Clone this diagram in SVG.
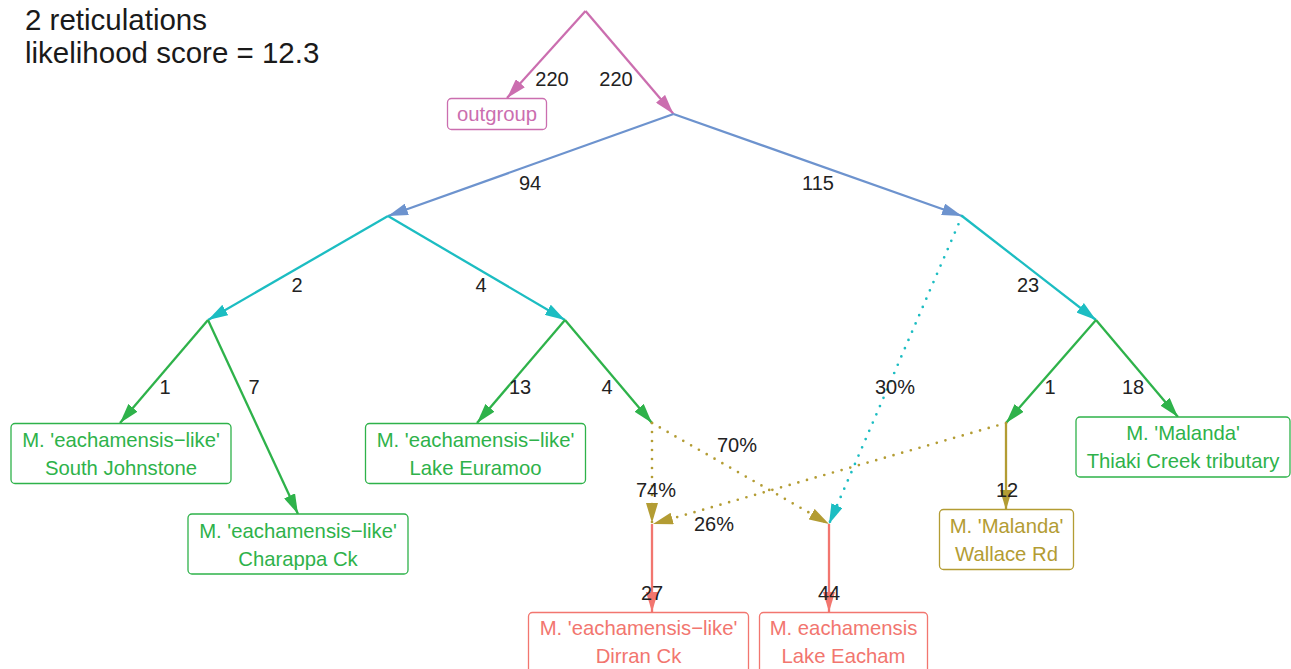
<svg xmlns="http://www.w3.org/2000/svg" width="1291" height="669" viewBox="0 0 1291 669">
<style>
.e{fill:none;stroke-width:2.3}
.d{fill:none;stroke-width:2.7;stroke-linecap:round;stroke-dasharray:0 9}
.pk{stroke:#CB6EAF}.bl{stroke:#6D93CE}.cy{stroke:#1CBDC2}.gr{stroke:#2EB24A}.ol{stroke:#B39C33}.sa{stroke:#F2766F}
.lbl{font-family:"Liberation Sans",Arial,sans-serif;font-size:20px;fill:#222;text-anchor:middle}
.title{font-family:"Liberation Sans",Arial,sans-serif;font-size:29.5px;fill:#1a1a1a}
.box{fill:#fff;stroke-width:1.3}
.bt{font-family:"Liberation Sans",Arial,sans-serif;font-size:20.3px;text-anchor:middle}
</style>
<defs>
<marker id="mpk" markerUnits="userSpaceOnUse" markerWidth="20" markerHeight="12" refX="20" refY="6" orient="auto"><path d="M0,0 L20,6 L0,12 z" fill="#CB6EAF"/></marker>
<marker id="mbl" markerUnits="userSpaceOnUse" markerWidth="20" markerHeight="12" refX="20" refY="6" orient="auto"><path d="M0,0 L20,6 L0,12 z" fill="#6D93CE"/></marker>
<marker id="mcy" markerUnits="userSpaceOnUse" markerWidth="20" markerHeight="12" refX="20" refY="6" orient="auto"><path d="M0,0 L20,6 L0,12 z" fill="#1CBDC2"/></marker>
<marker id="mgr" markerUnits="userSpaceOnUse" markerWidth="20" markerHeight="12" refX="20" refY="6" orient="auto"><path d="M0,0 L20,6 L0,12 z" fill="#2EB24A"/></marker>
<marker id="mol" markerUnits="userSpaceOnUse" markerWidth="20" markerHeight="12" refX="20" refY="6" orient="auto"><path d="M0,0 L20,6 L0,12 z" fill="#B39C33"/></marker>
<marker id="msa" markerUnits="userSpaceOnUse" markerWidth="20" markerHeight="12" refX="20" refY="6" orient="auto"><path d="M0,0 L20,6 L0,12 z" fill="#F2766F"/></marker>
</defs>
<rect width="1291" height="669" fill="#fff"/>
<text class="title" x="25" y="30">2 reticulations</text>
<text class="title" x="25" y="63">likelihood score = 12.3</text>

<g id="connectors">
<line class="e pk" x1="585.5" y1="11" x2="507" y2="98" marker-end="url(#mpk)"/>
<line class="e pk" x1="585.5" y1="11" x2="673.5" y2="114" marker-end="url(#mpk)"/>
<line class="e bl" x1="673.5" y1="114" x2="388" y2="216" marker-end="url(#mbl)"/>
<line class="e bl" x1="673.5" y1="114" x2="962" y2="216" marker-end="url(#mbl)"/>
<line class="e cy" x1="388" y1="216" x2="208" y2="320" marker-end="url(#mcy)"/>
<line class="e cy" x1="388" y1="216" x2="565" y2="320" marker-end="url(#mcy)"/>
<line class="e cy" x1="962" y1="216" x2="1096" y2="320" marker-end="url(#mcy)"/>
<line class="d cy" x1="962" y1="216" x2="829" y2="524" marker-end="url(#mcy)"/>
<line class="e gr" x1="208" y1="320" x2="120" y2="423" marker-end="url(#mgr)"/>
<line class="e gr" x1="208" y1="320" x2="298" y2="514" marker-end="url(#mgr)"/>
<line class="e gr" x1="565" y1="320" x2="477" y2="423" marker-end="url(#mgr)"/>
<line class="e gr" x1="565" y1="320" x2="652" y2="423" marker-end="url(#mgr)"/>
<line class="e gr" x1="1096" y1="320" x2="1006" y2="423" marker-end="url(#mgr)"/>
<line class="e gr" x1="1096" y1="320" x2="1178" y2="417" marker-end="url(#mgr)"/>
<line class="d ol" x1="652" y1="423" x2="652" y2="523" marker-end="url(#mol)"/>
<line class="d ol" x1="652" y1="423" x2="829" y2="524" marker-end="url(#mol)"/>
<line class="d ol" x1="1006" y1="423" x2="653" y2="524" marker-end="url(#mol)"/>
<line class="e ol" x1="1006" y1="423" x2="1006" y2="510" marker-end="url(#mol)"/>
<line class="e sa" x1="652" y1="524" x2="652" y2="612" marker-end="url(#msa)"/>
<line class="e sa" x1="829" y1="524" x2="829" y2="612" marker-end="url(#msa)"/>
</g>

<g id="edge-labels">
<text class="lbl" x="552" y="86">220</text>
<text class="lbl" x="616" y="86">220</text>
<text class="lbl" x="530" y="190">94</text>
<text class="lbl" x="818" y="190">115</text>
<text class="lbl" x="297" y="292">2</text>
<text class="lbl" x="481" y="292">4</text>
<text class="lbl" x="1028" y="292">23</text>
<text class="lbl" x="165" y="394">1</text>
<text class="lbl" x="254" y="394">7</text>
<text class="lbl" x="520" y="394">13</text>
<text class="lbl" x="607" y="394">4</text>
<text class="lbl" x="895" y="394">30%</text>
<text class="lbl" x="1050" y="394">1</text>
<text class="lbl" x="1133" y="394">18</text>
<text class="lbl" x="737" y="452">70%</text>
<text class="lbl" x="656" y="497">74%</text>
<text class="lbl" x="714" y="531">26%</text>
<text class="lbl" x="1007" y="497">12</text>
<text class="lbl" x="652" y="600">27</text>
<text class="lbl" x="829" y="600">44</text>
</g>

<g id="outgroup">
<rect class="box" x="447.5" y="98.5" width="99" height="31" rx="4" stroke="#CB6EAF"/>
<text class="bt" x="497" y="121" fill="#CB6EAF">outgroup</text>
</g>
<g id="south-johnstone">
<rect class="box" x="11" y="423.5" width="220" height="60" rx="4" stroke="#2EB24A"/>
<text class="bt" x="121" y="447" fill="#2EB24A">M. 'eachamensis−like'</text>
<text class="bt" x="121" y="475" fill="#2EB24A">South Johnstone</text>
</g>
<g id="charappa">
<rect class="box" x="188" y="514" width="220" height="60" rx="4" stroke="#2EB24A"/>
<text class="bt" x="298" y="538" fill="#2EB24A">M. 'eachamensis−like'</text>
<text class="bt" x="298" y="566" fill="#2EB24A">Charappa Ck</text>
</g>
<g id="lake-euramoo">
<rect class="box" x="365.5" y="423.5" width="220" height="60" rx="4" stroke="#2EB24A"/>
<text class="bt" x="475.5" y="447" fill="#2EB24A">M. 'eachamensis−like'</text>
<text class="bt" x="475.5" y="475" fill="#2EB24A">Lake Euramoo</text>
</g>
<g id="thiaki">
<rect class="box" x="1076" y="417" width="214" height="60" rx="4" stroke="#2EB24A"/>
<text class="bt" x="1183" y="440" fill="#2EB24A">M. 'Malanda'</text>
<text class="bt" x="1183" y="468" fill="#2EB24A">Thiaki Creek tributary</text>
</g>
<g id="wallace-rd">
<rect class="box" x="939.5" y="509.5" width="134" height="60" rx="4" stroke="#B39C33"/>
<text class="bt" x="1006.5" y="533" fill="#B39C33">M. 'Malanda'</text>
<text class="bt" x="1006.5" y="561" fill="#B39C33">Wallace Rd</text>
</g>
<g id="dirran">
<rect class="box" x="528.5" y="612.5" width="220" height="70" rx="4" stroke="#F2766F"/>
<text class="bt" x="638.5" y="635" fill="#F2766F">M. 'eachamensis−like'</text>
<text class="bt" x="638.5" y="663" fill="#F2766F">Dirran Ck</text>
</g>
<g id="lake-eacham">
<rect class="box" x="759.5" y="612.5" width="168" height="70" rx="4" stroke="#F2766F"/>
<text class="bt" x="843.5" y="635" fill="#F2766F">M. eachamensis</text>
<text class="bt" x="843.5" y="663" fill="#F2766F">Lake Eacham</text>
</g>
</svg>
